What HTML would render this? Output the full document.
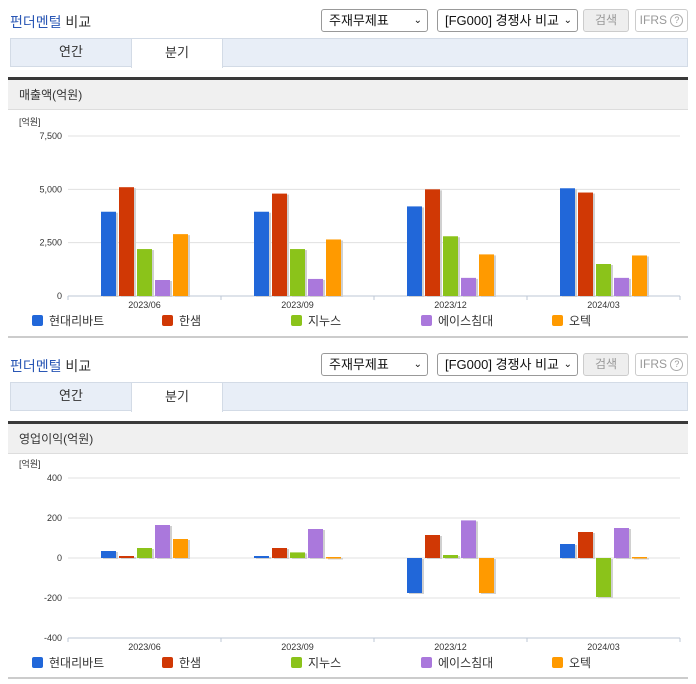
<!DOCTYPE html>
<html><head><meta charset="utf-8">
<style>
*{box-sizing:border-box;margin:0;padding:0}
body{width:696px;height:684px;background:#fff;font-family:"Liberation Sans","Noto Sans CJK KR",sans-serif;position:relative;overflow:hidden;color:#333}
.abs{position:absolute}
.title{font-size:14px;left:10px}
.title b{color:#2a57b5;font-weight:normal}
.sel{border:1px solid #999;border-radius:3px;height:23px;font-size:13px;line-height:21px;padding-left:7px;background:#fff;color:#111}
.sel span.ar{position:absolute;right:5px;top:0;font-size:10px}
.btn{border:1px solid #ccc;border-radius:3px;height:23px;font-size:12px;line-height:21px;text-align:center;color:#999}
.tabs{left:10px;width:678px;height:29px;background:#e8eef7;border:1px solid #d3dbe6}
.tab{position:absolute;top:-1px;height:29px;font-size:13px;line-height:28px;text-align:center;color:#333}
.tab.on{background:#fff;border:1px solid #d3dbe6;border-bottom:none;height:30px}
.dark{left:8px;width:680px;height:3px;background:#3a3a3a}
.hdr{left:8px;width:680px;height:30px;background:#f0f0f0;font-size:12px;line-height:30px;padding-left:11px;border-bottom:1px solid #ddd}
.bot{left:8px;width:680px;height:2px;background:#ccc}
</style></head><body>
<div id="root"></div>
<script>
const categories=["2023/06","2023/09","2023/12","2024/03"];
const seriesNames=["현대리바트","한샘","지누스","에이스침대","오텍"];
const colors=["#2167d9","#d03805","#8bc31a","#aa78dc","#ff9a00"];
const salesHyundai=[3950,3950,4200,5050];
const salesHanssem=[5100,4800,5000,4850];
const salesZinus=[2200,2200,2800,1500];
const salesAce=[750,800,850,850];
const salesOtek=[2900,2650,1950,1900];
const salesTicks=[0,2500,5000,7500];
const salesTickLabels=["0","2,500","5,000","7,500"];
const opHyundai=[35,10,-175,70];
const opHanssem=[10,50,115,130];
const opZinus=[50,28,15,-195];
const opAce=[165,145,188,150];
const opOtek=[95,5,-175,5];
const opTicks=[-400,-200,0,200,400];
const opTickLabels=["-400","-200","0","200","400"];

const root=document.getElementById('root');
function el(tag,cls,style,html){const e=document.createElement(tag);if(cls)e.className=cls;e.style.cssText=style;if(html!==undefined)e.innerHTML=html;root.appendChild(e);return e;}

function block(y0,hdrText){
  let e;
  e=el('div','abs title','top:'+(y0+12)+'px','<b>펀더멘털</b> 비교');
  
  e=el('div','abs sel','left:321px;top:'+(y0+9)+'px;width:107px','주재무제표<span class="ar">&#8964;</span>');
  
  e=el('div','abs sel','left:437px;top:'+(y0+9)+'px;width:141px','[FG000] 경쟁사 비교<span class="ar">&#8964;</span>');
  
  e=el('div','abs btn','left:583px;top:'+(y0+9)+'px;width:46px;background:#eee','검색');
  
  e=el('div','abs btn','left:635px;top:'+(y0+9)+'px;width:53px','');
  e.innerHTML='IFRS <span style="display:inline-block;width:13px;height:13px;border:1px solid #aaa;border-radius:50%;font-size:9px;line-height:11px;vertical-align:middle">?</span>';
  
  const tabs=el('div','abs tabs','top:'+(y0+38)+'px','');
  e=document.createElement('div');e.className='tab';e.style.cssText='left:0;width:120px';e.textContent='연간';tabs.appendChild(e);
  
  e=document.createElement('div');e.className='tab on';e.style.cssText='left:120px;width:92px';e.textContent='분기';tabs.appendChild(e);
  
  
  e=el('div','abs dark','top:'+(y0+77)+'px','');
  
  e=el('div','abs hdr','top:'+(y0+80)+'px',hdrText);
  
}

const NS='http://www.w3.org/2000/svg';
function chart(yTopPx,yBotPx,ticks,labels,series,name){
  const svg=document.createElementNS(NS,'svg');
  svg.setAttribute('width','696');svg.setAttribute('height','684');
  svg.style.cssText='position:absolute;left:0;top:0';
  
  
  root.appendChild(svg);
  const min=ticks[0],max=ticks[ticks.length-1];
  const Y=v=>yBotPx-(v-min)/(max-min)*(yBotPx-yTopPx);
  const X0=68,X1=680,cw=(X1-X0)/categories.length;
  const X=i=>X0+cw*i;
  function add(tag,attrs,txt){const e=document.createElementNS(NS,tag);for(const k in attrs)e.setAttribute(k,attrs[k]);if(txt!==undefined)e.textContent=txt;svg.appendChild(e);return e;}
  let t=add('text',{x:19,y:yTopPx-11,'font-size':9,fill:'#333'},'[억원]');
  
  ticks.forEach((v,i)=>{
    const l=add('line',{x1:X0,x2:X1,y1:Y(v),y2:Y(v),stroke:i===0?'#bcc7d6':'#e0e0e0','stroke-width':1});
    
    const tx=add('text',{x:62,y:Y(v)+3,'font-size':9,fill:'#333','text-anchor':'end'},labels[i]);
    
  });
  for(let i=0;i<=categories.length;i++){
    const l=add('line',{x1:X(i),x2:X(i),y1:yBotPx,y2:yBotPx+4,stroke:'#bcc7d6'});
    
  }
  const bw=15,gap=3,gw=series.length*bw+(series.length-1)*gap;
  const zero=Y(Math.max(0,min));
  categories.forEach((c,ci)=>{
    const gx=X(ci)+cw/2-gw/2;
    series.forEach((s,si)=>{
      const v=s[ci];const x=gx+si*(bw+gap);
      const y1=Math.min(Y(v),zero),h=Math.max(Math.abs(Y(v)-zero),1.5);
      const sh=add('rect',{x:x+2,y:y1+1,width:bw,height:h,fill:'#d0d0d0'});
      
      const r=add('rect',{x:x,y:y1,width:bw,height:h,fill:colors[si]});
      
    });
    const tx=add('text',{x:X(ci)+cw/2,y:yBotPx+12,'font-size':9,fill:'#333','text-anchor':'middle'},c);
    
  });
  const lx=[32,162,291,421,552];
  seriesNames.forEach((n,i)=>{
    const r=add('rect',{x:lx[i],y:yBotPx+19,width:11,height:11,rx:2,fill:colors[i]});
    
    const tx=add('text',{x:lx[i]+17,y:yBotPx+29,'font-size':12,fill:'#333'},n);
    
  });
}

block(0,'매출액(억원)');
chart(136,296,salesTicks,salesTickLabels,[salesHyundai,salesHanssem,salesZinus,salesAce,salesOtek],'sales-chart');
let b=el('div','abs bot','top:336px','');

block(344,'영업이익(억원)');
chart(478,638,opTicks,opTickLabels,[opHyundai,opHanssem,opZinus,opAce,opOtek],'operating-profit-chart');
b=el('div','abs bot','top:677px','');

</script>
</body></html>
